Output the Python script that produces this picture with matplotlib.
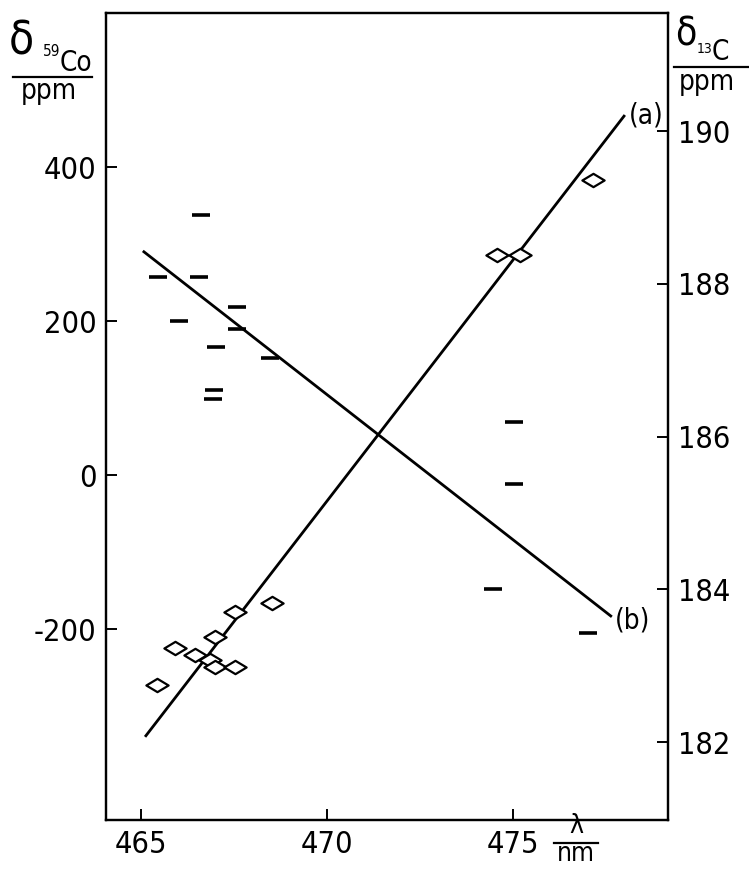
import matplotlib
matplotlib.use("Agg")
import matplotlib.pyplot as plt
from matplotlib.path import Path
from matplotlib import font_manager

names = {f.name for f in font_manager.fontManager.ttflist}
if 'Liberation Sans Narrow' in names:
    plt.rcParams['font.family'] = ['Liberation Sans Narrow', 'DejaVu Sans']
else:
    plt.rcParams['font.family'] = ['DejaVu Sans']
    plt.rcParams['font.stretch'] = 'condensed'
plt.rcParams['axes.unicode_minus'] = False

# ---- data ----
# diamonds: delta 59Co (left axis) vs wavelength
co_lambda = [465.43, 465.91, 466.45, 466.99, 466.85, 466.99, 467.53, 467.53, 468.52, 474.57, 475.19, 477.15]
co_shift = [-273, -225, -234, -210, -240, -249, -249, -178, -166, 286, 286, 383]
# dashes: delta 13C (right axis) vs wavelength
c_lambda = [465.46, 466.56, 466.61, 467.58, 466.02, 467.58, 467.02, 468.47, 466.96, 466.94, 475.03, 475.03, 474.46, 477.02]
c_shift = [188.09, 188.09, 188.90, 187.70, 187.51, 187.41, 187.17, 187.03, 186.61, 186.49, 186.19, 185.38, 184.01, 183.43]
# regression lines
line_a_lambda = [465.11, 478.01]
line_a_co = [-340, 467.5]
line_b_lambda = [465.05, 477.66]
line_b_c = [188.43, 183.64]

x_ticks = [465, 470, 475]
left_ticks = [-200, 0, 200, 400]
right_ticks = [182, 184, 186, 188, 190]

W, H = 749, 869
fig = plt.figure(figsize=(W / 100, H / 100), dpi=100)
ax = fig.add_axes([106 / W, 1 - 820 / H, (668 - 106) / W, (820 - 13) / H])
ax2 = ax.twinx()

ax.set_xlim(464.06, 479.17)
ax.set_ylim(-448, 600)
ax2.set_ylim(180.98, 191.545)

diamond = Path([(-1, 0), (0, 0.6), (1, 0), (0, -0.6), (-1, 0)],
               [Path.MOVETO, Path.LINETO, Path.LINETO, Path.LINETO, Path.CLOSEPOLY])

ax.plot(line_a_lambda, line_a_co, color='black', lw=2.0, zorder=2, solid_capstyle='butt')
ax.plot(co_lambda, co_shift, linestyle='none', marker=diamond, ms=16,
        mfc='white', mec='black', mew=1.6, zorder=3)

ax2.plot(line_b_lambda, line_b_c, color='black', lw=2.0, zorder=2, solid_capstyle='butt')
ax2.plot(c_lambda, c_shift, linestyle='none', marker='_', ms=13, mew=2.6,
         color='black', zorder=3)

ax.text(line_a_lambda[1] + 0.1, line_a_co[1], '(a)', fontsize=20, ha='left', va='center')
ax2.text(line_b_lambda[1] + 0.08, line_b_c[1] - 0.05, '(b)', fontsize=20, ha='left', va='center')

for a in (ax, ax2):
    for s in a.spines.values():
        s.set_linewidth(1.6)

ax.set_xticks(x_ticks)
ax.set_yticks(left_ticks)
ax2.set_yticks(right_ticks)
ax.tick_params(axis='both', direction='in', length=8, width=1.4, labelsize=22, pad=7)
ax2.tick_params(axis='y', direction='in', length=8, width=1.4, labelsize=22, pad=7)

# left label
fig.text(9 / W, 1 - 42 / H, 'δ', fontsize=33, ha='left', va='center')
fig.text(43 / W, 1 - 52 / H, '59', fontsize=11, ha='left', va='center')
fig.text(60 / W, 1 - 63 / H, 'Co', fontsize=20, ha='left', va='center')
fig.add_artist(plt.Line2D([13 / W, 92 / W], [1 - 77 / H, 1 - 77 / H], color='black', lw=1.6))
fig.text(49 / W, 1 - 91 / H, 'ppm', fontsize=20, ha='center', va='center')

# right label
fig.text(675 / W, 1 - 35 / H, 'δ', fontsize=28, ha='left', va='center')
fig.text(697 / W, 1 - 49 / H, '13', fontsize=10, ha='left', va='center')
fig.text(712 / W, 1 - 52 / H, 'C', fontsize=20, ha='left', va='center')
fig.add_artist(plt.Line2D([674 / W, 748 / W], [1 - 67 / H, 1 - 67 / H], color='black', lw=1.6))
fig.text(707 / W, 1 - 82 / H, 'ppm', fontsize=20, ha='center', va='center')

# x label
fig.text(576 / W, 1 - 826 / H, 'λ', fontsize=19, ha='center', va='center')
fig.add_artist(plt.Line2D([554 / W, 598 / W], [1 - 843 / H, 1 - 843 / H], color='black', lw=1.6))
fig.text(576 / W, 1 - 854 / H, 'nm', fontsize=19, ha='center', va='center')

fig.savefig('out.png', dpi=100)
